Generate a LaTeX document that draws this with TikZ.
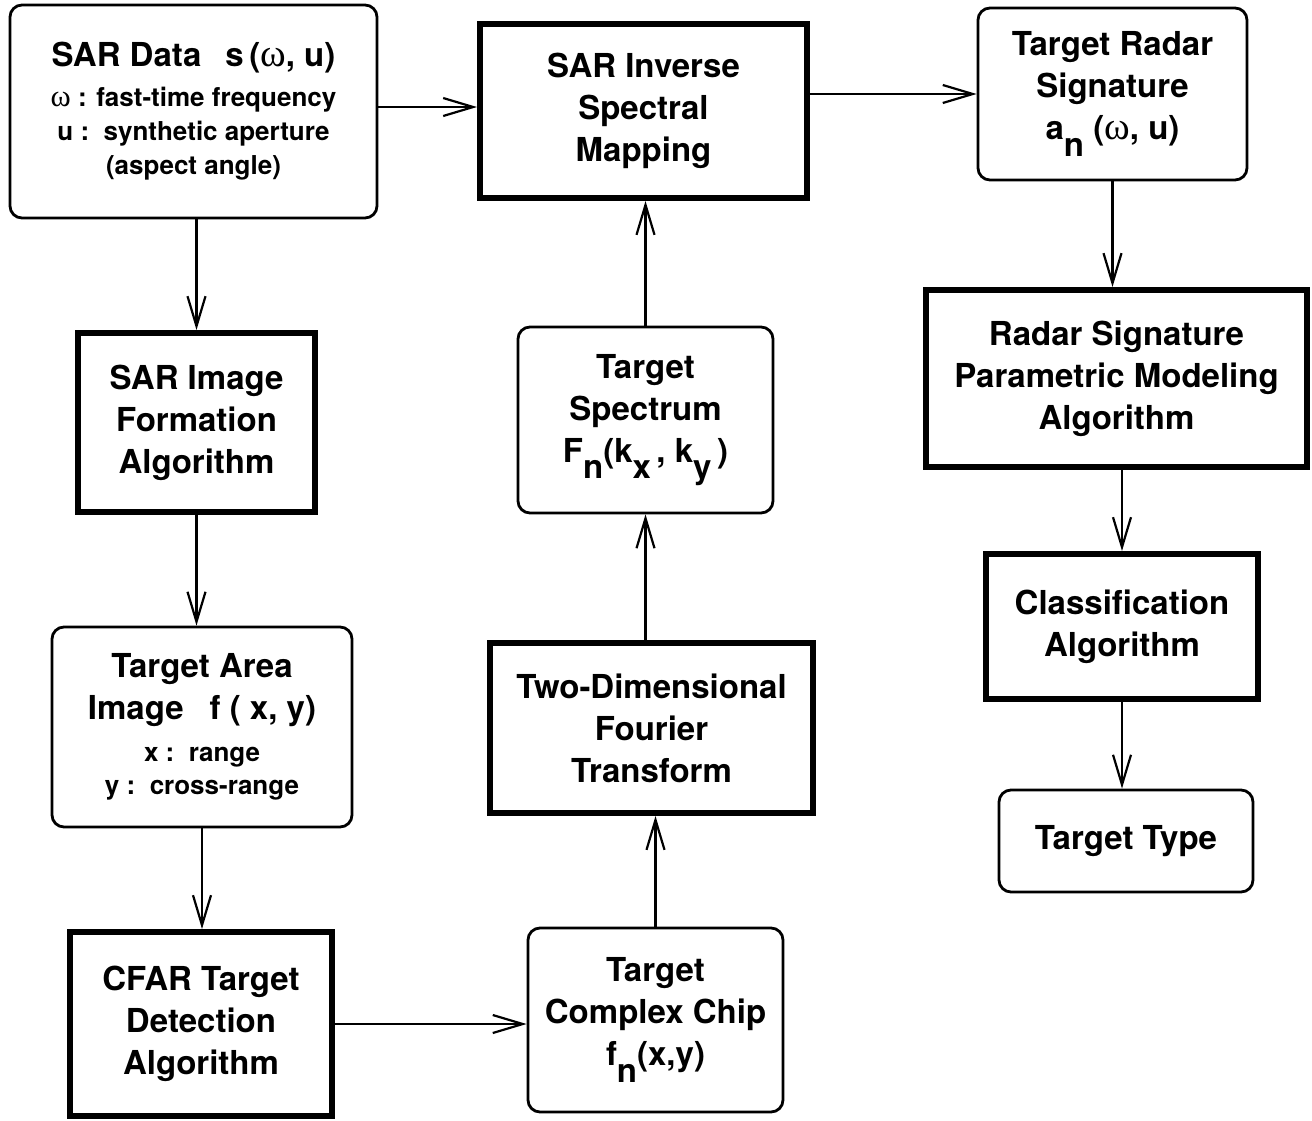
\documentclass[tikz,border=0pt]{standalone}
\usepackage{fontspec}
\usepackage{graphicx}
\setmainfont{TeX Gyre Heros}
\newfontfamily\grk{Liberation Serif}
\usetikzlibrary{arrows.meta}
\newcommand{\lowsub}[1]{\raisebox{-0.5em}{#1}}
\newcommand{\om}{{\grk\mdseries\scalebox{1.18}{ω}}}
\newcommand{\smalltxt}{\fontsize{26}{34}\selectfont}
\begin{document}
\begin{tikzpicture}[x=1pt,y=-1pt,
  box/.style={draw,line width=2.8pt,rounded corners=12pt,inner sep=0pt,align=center,font=\bfseries\fontsize{33}{42}\selectfont},
  tbox/.style={draw,line width=6pt,inner sep=0pt,align=center,font=\bfseries\fontsize{33}{42}\selectfont},
  arr/.style={line width=2.2pt,-{Straight Barb[length=30pt,width=18pt]}}]
\useasboundingbox (0,0) rectangle (1312,1120);

% column 1
\node[box,minimum width=367,minimum height=213] (sar) at (193.5,111.5)
  {SAR Data\hspace{24pt}s\,(\om, u)\\[-2pt]
   {\smalltxt \om\ : fast-time frequency}\\[-8pt]
   {\smalltxt u :\ \ synthetic aperture}\\[-8pt]
   {\smalltxt (aspect angle)}};
\node[tbox,minimum width=237,minimum height=179] (img) at (196.5,422.5)
  {SAR Image\\Formation\\Algorithm};
\node[box,minimum width=300,minimum height=200] (area) at (202,727)
  {Target Area\\
   Image\hspace{26pt}f ( x, y)\\
   {\smalltxt x :\ \ range}\\[-9pt]
   {\smalltxt y :\ \ cross-range}};
\node[tbox,minimum width=262,minimum height=184] (cfar) at (201,1024)
  {CFAR Target\\Detection\\Algorithm};

% column 2
\node[tbox,minimum width=327,minimum height=174] (inv) at (643.5,111)
  {SAR Inverse\\Spectral\\Mapping};
\node[box,minimum width=255,minimum height=186] (spec) at (645.5,420)
  {Target\\Spectrum\\F\lowsub{n}(k\lowsub{x}\,, k\lowsub{y}\,)};
\node[tbox,minimum width=323,minimum height=170] (fft) at (651.5,728)
  {Two-Dimensional\\Fourier\\Transform};
\node[box,minimum width=255,minimum height=184] (chip) at (655.5,1020)
  {Target\\Complex Chip\\f\lowsub{n}(x,y)};

% column 3
\node[box,minimum width=269,minimum height=172] (rad) at (1112.5,94)
  {Target Radar\\Signature\\a\lowsub{n} (\om, u)};
\node[tbox,minimum width=381,minimum height=177] (par) at (1116.5,378.5)
  {Radar Signature\\Parametric Modeling\\Algorithm};
\node[tbox,minimum width=272,minimum height=145] (cls) at (1122,626.5)
  {Classification\\Algorithm};
\node[box,minimum width=254,minimum height=102] (typ) at (1126,841)
  {Target Type};

% connectors
\draw[arr] (sar.east |- 0,107) -- (inv.west |- 0,107);
\draw[arr] (sar.south -| img.north) -- (img.north);
\draw[arr] (img.south) -- (img.south |- area.north);
\draw[arr] (area.south) -- (area.south |- cfar.north);
\draw[arr] (cfar.east) -- (cfar.east -| chip.west);
\draw[arr] (chip.north) -- (chip.north |- fft.south);
\draw[arr] (spec.south |- fft.north) -- (spec.south);
\draw[arr] (spec.north) -- (spec.north |- inv.south);
\draw[arr] (rad.west -| inv.east) -- (rad.west);
\draw[arr] (rad.south) -- (rad.south |- par.north);
\draw[arr] (cls.north |- par.south) -- (cls.north);
\draw[arr] (cls.south) -- (cls.south |- typ.north);
\end{tikzpicture}
\end{document}
